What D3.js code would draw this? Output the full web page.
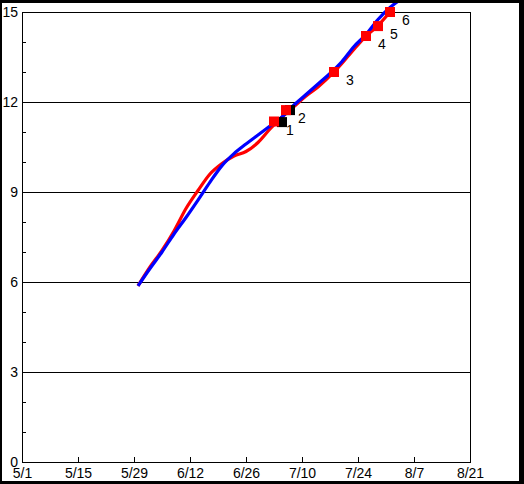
<!DOCTYPE html>
<html>
<head>
<meta charset="utf-8">
<script src="https://cdn.jsdelivr.net/npm/d3@7"></script>
<style>
  html, body { margin: 0; padding: 0; background: #fff; }
  svg { display: block; }
  text { font-family: "Liberation Sans", Arial, sans-serif; font-size: 14px; fill: #000; }
</style>
</head>
<body>
<svg id="chart" width="524" height="484"></svg>
<script>
// ---- data ----
const xTickDates = ["2021-05-01","2021-05-15","2021-05-29","2021-06-12","2021-06-26","2021-07-10","2021-07-24","2021-08-07","2021-08-21"];
const xTickLabels = ["5/1","5/15","5/29","6/12","6/26","7/10","7/24","8/7","8/21"];
const yTicks = [0, 3, 6, 9, 12, 15];
const yMinorTicks = [1, 2, 4, 5, 7, 8, 10, 11, 13, 14];

const redDates = ["2021-05-30","2021-06-02","2021-06-05","2021-06-08","2021-06-11","2021-06-14","2021-06-17","2021-06-20","2021-06-23","2021-06-26","2021-06-29","2021-07-02","2021-07-05","2021-07-08","2021-07-11","2021-07-14","2021-07-18","2021-07-22","2021-07-26","2021-07-29","2021-08-01"];
const redValues = [5.87, 6.5, 7.05, 7.7, 8.45, 9.05, 9.6, 9.95, 10.2, 10.35, 10.65, 11.1, 11.5, 11.85, 12.2, 12.5, 13.0, 13.6, 14.2, 14.55, 15.0];

const blueDates = ["2021-05-30","2021-06-02","2021-06-05","2021-06-08","2021-06-11","2021-06-14","2021-06-17","2021-06-20","2021-06-23","2021-06-26","2021-06-29","2021-07-02","2021-07-05","2021-07-08","2021-07-11","2021-07-14","2021-07-17","2021-07-20","2021-07-23","2021-07-26","2021-07-29","2021-08-01","2021-08-04"];
const blueValues = [5.87, 6.45, 7.0, 7.6, 8.15, 8.73, 9.33, 9.88, 10.28, 10.6, 10.9, 11.2, 11.5, 11.9, 12.25, 12.6, 12.95, 13.35, 13.85, 14.25, 14.75, 15.15, 15.45];

const markerLabels = ["1","2","3","4","5","6"];
const markerDates = ["2021-07-03","2021-07-06","2021-07-18","2021-07-26","2021-07-29","2021-08-01"];
const markerValues = [11.35, 11.73, 13.0, 14.2, 14.53, 15.0];

const blackDates = ["2021-07-05","2021-07-07"];
const blackValues = [11.33, 11.73];

// ---- drawing ----
const W = 524, H = 484;
const svg = d3.select("#chart");
const parse = d3.utcParse("%Y-%m-%d");
const L = 22, R = 470, T = 12, B = 462;

const x = d3.scaleUtc().domain([parse(xTickDates[0]), parse(xTickDates[xTickDates.length - 1])]).range([L, R]);
const y = d3.scaleLinear().domain([0, 15]).range([B, T]);

// outer frame
svg.append("rect").attr("x", 0).attr("y", 0).attr("width", W).attr("height", H).attr("fill", "#000");
svg.append("rect").attr("x", 2).attr("y", 3).attr("width", 517).attr("height", 478).attr("fill", "#fff");

// plot box
svg.append("rect").attr("x", L + 0.5).attr("y", T + 0.5).attr("width", R - L).attr("height", B - T)
  .attr("fill", "none").attr("stroke", "#000").attr("stroke-width", 1)
  .attr("shape-rendering", "crispEdges");

// grid lines
const grid = svg.append("g").attr("transform", `translate(${L},0)`)
  .call(d3.axisRight(y).tickValues(yTicks.slice(1, -1)).tickSize(R - L).tickFormat(""));
grid.select(".domain").remove();
grid.selectAll("line").attr("stroke", "#000").attr("shape-rendering", "crispEdges");

// minor y ticks
const minor = svg.append("g").attr("transform", `translate(${L},0)`)
  .call(d3.axisRight(y).tickValues(yMinorTicks).tickSize(4).tickFormat(""));
minor.select(".domain").remove();
minor.selectAll("line").attr("stroke", "#000").attr("shape-rendering", "crispEdges");

// y labels
const yl = svg.append("g").attr("transform", `translate(${L},0)`)
  .call(d3.axisLeft(y).tickValues(yTicks).tickSize(0).tickPadding(4));
yl.select(".domain").remove();
yl.selectAll("text").attr("dy", "0.3em")
  .style("font-family", "Liberation Sans, Arial, sans-serif").style("font-size", "14px").attr("fill", "#000");

// x axis ticks + labels
const xa = svg.append("g").attr("transform", `translate(0,${B})`)
  .call(d3.axisTop(x).tickValues(xTickDates.map(parse)).tickSize(5)
    .tickFormat((d, i) => xTickLabels[i]));
xa.select(".domain").remove();
xa.selectAll("line").attr("stroke", "#000").attr("shape-rendering", "crispEdges");
xa.selectAll("text").attr("y", 16).attr("dy", 0)
  .style("font-family", "Liberation Sans, Arial, sans-serif").style("font-size", "14px").attr("fill", "#000");

// lines
const line = d3.line().x(d => x(d[0])).y(d => y(d[1])).curve(d3.curveMonotoneX);
const redData = redDates.map((d, i) => [parse(d), redValues[i]]);
const blueData = blueDates.map((d, i) => [parse(d), blueValues[i]]);

svg.append("path").datum(redData).attr("d", line)
  .attr("fill", "none").attr("stroke", "#ff0000").attr("stroke-width", 3.2).attr("stroke-linejoin", "round");
svg.append("path").datum(blueData).attr("d", line)
  .attr("fill", "none").attr("stroke", "#0000ff").attr("stroke-width", 3.2).attr("stroke-linejoin", "round");

// black markers
const S = 10;
svg.selectAll("rect.black").data(blackDates.map((d, i) => [parse(d), blackValues[i]])).enter()
  .append("rect").attr("class", "black")
  .attr("x", d => x(d[0]) - S / 2).attr("y", d => y(d[1]) - S / 2)
  .attr("width", S).attr("height", S).attr("fill", "#000");

// red markers
const mk = markerDates.map((d, i) => [parse(d), markerValues[i], markerLabels[i]]);
svg.selectAll("rect.red").data(mk).enter()
  .append("rect").attr("class", "red")
  .attr("x", d => x(d[0]) - S / 2).attr("y", d => y(d[1]) - S / 2)
  .attr("width", S).attr("height", S).attr("fill", "#ff0000");
svg.selectAll("text.lab").data(mk).enter()
  .append("text").attr("class", "lab")
  .attr("x", d => x(d[0]) + 12).attr("y", d => y(d[1]) + 13)
  .text(d => d[2]);

// redraw frame top edge over anything overflowing
svg.append("rect").attr("x", 0).attr("y", 0).attr("width", W).attr("height", 3).attr("fill", "#000");
</script>
</body>
</html>
